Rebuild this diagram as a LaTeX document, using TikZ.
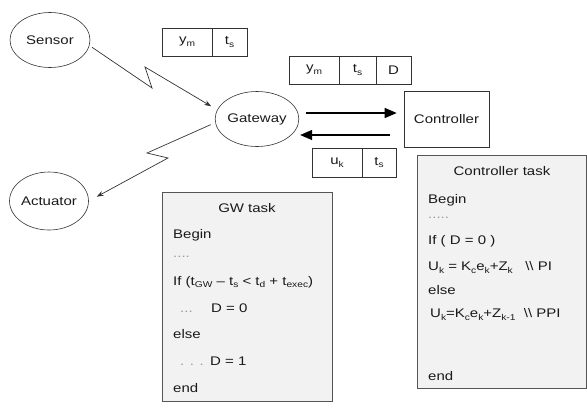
\documentclass[tikz,border=0pt]{standalone}
\usepackage{fontspec}
\setmainfont[FakeStretch=1.2]{Liberation Sans}
\usetikzlibrary{shapes.geometric,arrows.meta}
\definecolor{lncol}{HTML}{333333}
\definecolor{txtcol}{HTML}{1A1A1A}
\definecolor{taskfill}{HTML}{F2F2F2}
\definecolor{taskdraw}{HTML}{555555}
\definecolor{dotcol}{HTML}{9A9A9A}
\newcommand\sbs[1]{\raisebox{-2.8pt}{\fontsize{8.5}{9}\selectfont #1}}
\newcommand\dts[1]{\textcolor{dotcol}{#1}}
\begin{document}
\begin{tikzpicture}[x=1pt,y=-1pt,
  font=\fontsize{12.5}{15}\selectfont, text=txtcol,
  ell/.style={ellipse,draw=lncol,inner sep=0pt,line width=0.6pt},
  cell/.style={draw=lncol,inner sep=0pt,line width=0.6pt},
  task/.style={draw=taskdraw,fill=taskfill,line width=0.8pt,inner sep=0pt,anchor=north west},
  wire/.style={draw=lncol,line width=0.7pt,-{Stealth[length=7pt,width=5pt]}},
  big/.style={draw=black,line width=1.3pt,-{Triangle[length=12pt,width=10pt]}},
  tl/.style={anchor=base west,inner sep=0pt},
  tc/.style={anchor=base,inner sep=0pt}]
\useasboundingbox (0,0) rectangle (587,408);

% main nodes
\node[ell,minimum width=80pt,minimum height=55pt] (sensor) at (50,40) {Sensor};
\node[ell,minimum width=79pt,minimum height=55pt] (gw) at (257,119) {Gateway};
\node[ell,minimum width=78pt,minimum height=58pt] (act) at (49,201) {Actuator};
\node[draw=lncol,line width=0.6pt,minimum width=85pt,minimum height=56pt] (ctrl) at (446.5,119) {Controller};

% message boxes
\node[cell,minimum width=50pt,minimum height=28pt] (m1a) at (187,42) {y\sbs{m}};
\node[cell,minimum width=35pt,minimum height=28pt] (m1b) at (229.5,42) {t\sbs{s}};
\node[cell,minimum width=50pt,minimum height=28pt] (m2a) at (314,70) {y\sbs{m}};
\node[cell,minimum width=37pt,minimum height=28pt] (m2b) at (357.5,70) {t\sbs{s}};
\node[cell,minimum width=35pt,minimum height=28pt] (m2c) at (393.5,70) {D};
\node[cell,minimum width=50pt,minimum height=29pt] (m3a) at (337,162.5) {u\sbs{k}};
\node[cell,minimum width=34pt,minimum height=29pt] (m3b) at (379,162.5) {t\sbs{s}};

% wireless links
\coordinate (z1) at (152,88);
\coordinate (z2) at (145,67);
\coordinate (z3) at (147,153);
\coordinate (z4) at (168,158);
\draw[wire,shorten <=3pt,shorten >=7pt] (sensor.-8) -- (z1) -- (z2) -- (gw.167);
\draw[wire,shorten <=5pt,shorten >=9pt] (gw.185) -- (z3) -- (z4) -- (act.east);

% wired links
\coordinate (fy) at (0,113);
\coordinate (by) at (0,135);
\draw[big,shorten <=7pt,shorten >=7pt] (gw.east |- fy) -- (ctrl.west |- fy);
\draw[big,shorten <=14pt,shorten >=1pt] (ctrl.west |- by) -- (gw.east |- by);

% GW task
\node[task,minimum width=170pt,minimum height=209pt] (gwtask) at (162,192) {};
\node[tc] (g0) at (247,212) {GW task};
\node[tl] (g1) at (173,238) {Begin};
\node[tl] (g2) at (173,257) {\dts{....}};
\node[tl] (g3) at (173,285) {If (t\sbs{GW} – t\sbs{s} < t\sbs{d} + t\sbs{exec})};
\node[tl] (g4) at (180,312.5) {\dts{...}};
\node[tl] (g5) at (211,312.5) {D = 0};
\node[tl] (g6) at (173,338) {else};
\node[tl] (g7) at (180,365) {\dts{. . .}};
\node[tl] (g8) at (210,365) {D = 1};
\node[tl] (g9) at (173,392) {end};

% Controller task
\node[task,minimum width=169pt,minimum height=233pt] (ctask) at (417,155) {};
\node[tc] (c0) at (502,175.5) {Controller task};
\node[tl] (c1) at (428,203) {Begin};
\node[tl] (c2) at (428,218) {\dts{.....}};
\node[tl] (c3) at (428,244) {If ( D = 0 )};
\node[tl] (c4) at (428,270.5) {U\sbs{k} = K\sbs{c}e\sbs{k}+Z\sbs{k}\ \ \ \textbackslash\textbackslash\ PI};
\node[tl] (c5) at (428,294) {else};
\node[tl] (c6) at (430,317.5) {U\sbs{k}=K\sbs{c}e\sbs{k}+Z\sbs{k-1}\ \ \textbackslash\textbackslash\ PPI};
\node[tl] (c7) at (428,380) {end};
\end{tikzpicture}
\end{document}
